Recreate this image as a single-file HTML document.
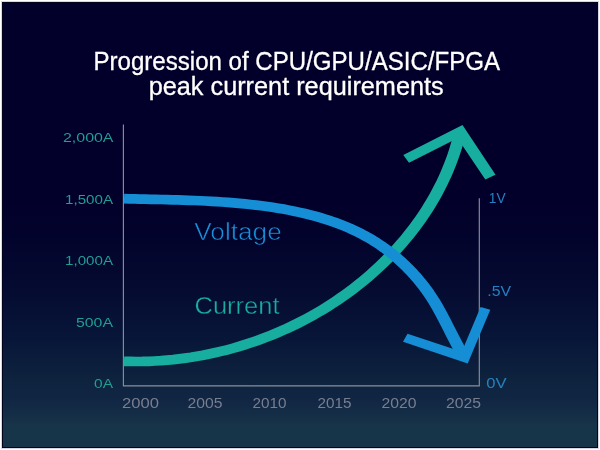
<!DOCTYPE html>
<html><head><meta charset="utf-8">
<style>
html,body{margin:0;padding:0;background:#fff;width:600px;height:450px;overflow:hidden}
svg{position:absolute;left:0;top:0;will-change:transform}
text{font-family:"Liberation Sans",sans-serif}
</style></head><body>
<svg width="600" height="450" viewBox="0 0 600 450">
<defs><linearGradient id="bg" gradientUnits="userSpaceOnUse" x1="0" y1="0" x2="0" y2="448">
<stop offset="0" stop-color="#02002a"/>
<stop offset="0.446" stop-color="#02002a"/>
<stop offset="0.525" stop-color="#02032c"/>
<stop offset="0.636" stop-color="#050a30"/>
<stop offset="0.748" stop-color="#071538"/>
<stop offset="0.848" stop-color="#0e233e"/>
<stop offset="0.893" stop-color="#112643"/>
<stop offset="0.920" stop-color="#142c46"/>
<stop offset="0.950" stop-color="#173448"/>
<stop offset="1" stop-color="#163447"/>
</linearGradient></defs>
<rect x="1" y="1" width="598" height="448" fill="#d6d6e2"/>
<rect x="2" y="2" width="596" height="446" fill="#00031a"/>
<rect x="3" y="3" width="594" height="444" fill="url(#bg)"/>
<g font-family="Liberation Sans" fill="#ffffff" font-size="25" stroke="#ffffff" stroke-width="0.3">
<text x="93.5" y="70.2" textLength="406.5" lengthAdjust="spacingAndGlyphs">Progression of CPU/GPU/ASIC/FPGA</text>
<text x="148.7" y="95" textLength="295" lengthAdjust="spacingAndGlyphs">peak current requirements</text>
</g>
<g stroke="#8a8e9a" stroke-width="1.15" fill="none">
<path d="M123.4,124.5 V385.9 H479.3 V198.3"/>
</g>
<g fill="#209f92" font-size="13" lengthAdjust="spacingAndGlyphs">
<text x="63" y="142.3" textLength="50.5" lengthAdjust="spacingAndGlyphs">2,000A</text>
<text x="65" y="203.5" textLength="48" lengthAdjust="spacingAndGlyphs">1,500A</text>
<text x="65" y="265" textLength="48" lengthAdjust="spacingAndGlyphs">1,000A</text>
<text x="76" y="326.7" textLength="37" lengthAdjust="spacingAndGlyphs">500A</text>
<text x="94" y="388" textLength="19" lengthAdjust="spacingAndGlyphs">0A</text>
</g>
<g fill="#787e90" font-size="14">
<text x="122" y="408" textLength="37" lengthAdjust="spacingAndGlyphs">2000</text>
<text x="187.5" y="408" textLength="35" lengthAdjust="spacingAndGlyphs">2005</text>
<text x="252.5" y="408" textLength="34" lengthAdjust="spacingAndGlyphs">2010</text>
<text x="317.5" y="408" textLength="34" lengthAdjust="spacingAndGlyphs">2015</text>
<text x="381.5" y="408" textLength="35" lengthAdjust="spacingAndGlyphs">2020</text>
<text x="446" y="408" textLength="35" lengthAdjust="spacingAndGlyphs">2025</text>
</g>
<g fill="#2580c0" font-size="14">
<text x="488.8" y="203.4" textLength="16.8" lengthAdjust="spacingAndGlyphs">1V</text>
<text x="487.3" y="295.8" textLength="23.8" lengthAdjust="spacingAndGlyphs">.5V</text>
<text x="486.3" y="388.2" textLength="20.3" lengthAdjust="spacingAndGlyphs">0V</text>
</g>
<text x="194.3" y="240.3" fill="#1a90d8" font-size="23" textLength="87.5" lengthAdjust="spacingAndGlyphs" stroke="#02022b" stroke-width="0.6">Voltage</text>
<text x="194.5" y="313.8" fill="#18ad9f" font-size="23.5" textLength="85" lengthAdjust="spacingAndGlyphs" stroke="#050b31" stroke-width="0.35">Current</text>
<!-- current curve -->
<g transform="translate(124,0) scale(1.25,1) translate(-124,0)"><path d="M123.99,361.29 L128.97,361.45 L133.94,361.50 L138.89,361.45 L143.83,361.29 L148.74,361.02 L153.64,360.65 L158.51,360.17 L163.37,359.60 L168.20,358.92 L173.01,358.14 L177.79,357.27 L182.55,356.29 L187.28,355.23 L191.98,354.06 L196.66,352.80 L201.30,351.45 L205.92,350.01 L210.50,348.48 L215.05,346.86 L219.57,345.15 L224.05,343.36 L228.50,341.48 L232.91,339.51 L237.29,337.47 L241.62,335.34 L245.92,333.12 L250.17,330.83 L254.39,328.46 L258.56,326.02 L262.69,323.50 L266.77,320.90 L270.81,318.23 L274.81,315.48 L278.75,312.67 L282.65,309.78 L286.50,306.82 L290.30,303.80 L294.04,300.71 L297.74,297.55 L301.38,294.33 L304.96,291.05 L308.50,287.70 L311.97,284.30 L315.39,280.83 L318.76,277.30 L322.06,273.72 L325.31,270.09 L328.49,266.39 L331.62,262.65 L334.68,258.85 L337.68,255.00 L340.62,251.10 L343.49,247.15 L346.30,243.16 L349.04,239.12 L351.72,235.03 L354.33,230.90 L356.87,226.73 L359.34,222.52 L361.74,218.26 L364.07,213.97 L366.33,209.64 L368.51,205.28 L370.63,200.88 L372.66,196.44 L374.63,191.97 L376.51,187.48 L378.33,182.95 L380.06,178.39 L381.71,173.80 L383.29,169.19 L384.79,164.56 L386.20,159.90 L387.53,155.21 L388.79,150.51 L389.95,145.78 L391.04,141.04 L392.03,136.28 L392.95,131.50" stroke="#17ae9f" stroke-width="9.7" fill="none" stroke-linejoin="round"/></g>
<polygon points="403.3,155 462.5,125 495.5,174.8 485.3,179.4 457.5,138.2 409,162.7" fill="#17ae9f"/>
<!-- voltage curve -->
<g transform="translate(124,0) scale(1.25,1) translate(-124,0)"><path d="M124.01,198.70 L128.16,198.82 L132.36,198.94 L136.59,199.05 L140.86,199.17 L145.15,199.28 L149.48,199.39 L153.83,199.52 L158.20,199.65 L162.60,199.79 L167.02,199.94 L171.45,200.11 L175.90,200.30 L180.36,200.52 L184.84,200.76 L189.32,201.02 L193.80,201.32 L198.29,201.64 L202.78,202.01 L207.26,202.41 L211.74,202.85 L216.22,203.34 L220.69,203.87 L225.14,204.45 L229.58,205.08 L234.01,205.77 L238.42,206.51 L242.81,207.31 L247.17,208.17 L251.51,209.10 L255.82,210.10 L260.10,211.17 L264.35,212.31 L268.56,213.52 L272.74,214.81 L276.88,216.19 L280.97,217.65 L285.02,219.19 L289.03,220.82 L292.98,222.55 L296.89,224.36 L300.74,226.28 L304.53,228.30 L308.27,230.41 L311.94,232.64 L315.56,234.97 L319.10,237.41 L322.58,239.96 L325.99,242.62 L329.33,245.39 L332.59,248.27 L335.79,251.24 L338.90,254.31 L341.94,257.48 L344.91,260.73 L347.79,264.06 L350.59,267.47 L353.31,270.96 L355.95,274.52 L358.50,278.15 L360.97,281.85 L363.35,285.60 L365.64,289.41 L367.84,293.27 L369.94,297.18 L371.96,301.14 L373.88,305.13 L375.73,309.16 L377.51,313.22 L379.24,317.29 L380.93,321.37 L382.59,325.46 L384.24,329.55 L385.88,333.62 L387.54,337.68 L389.21,341.72 L390.93,345.73 L392.69,349.70 L394.50,353.63 L396.40,357.50" stroke="#168ed6" stroke-width="9.7" fill="none" stroke-linejoin="round"/></g>
<polygon points="407.5,333.7 461.8,351.8 480.6,307 490.3,309.7 467.7,363.4 403,341.7" fill="#168ed6"/>
</svg>
</body></html>
